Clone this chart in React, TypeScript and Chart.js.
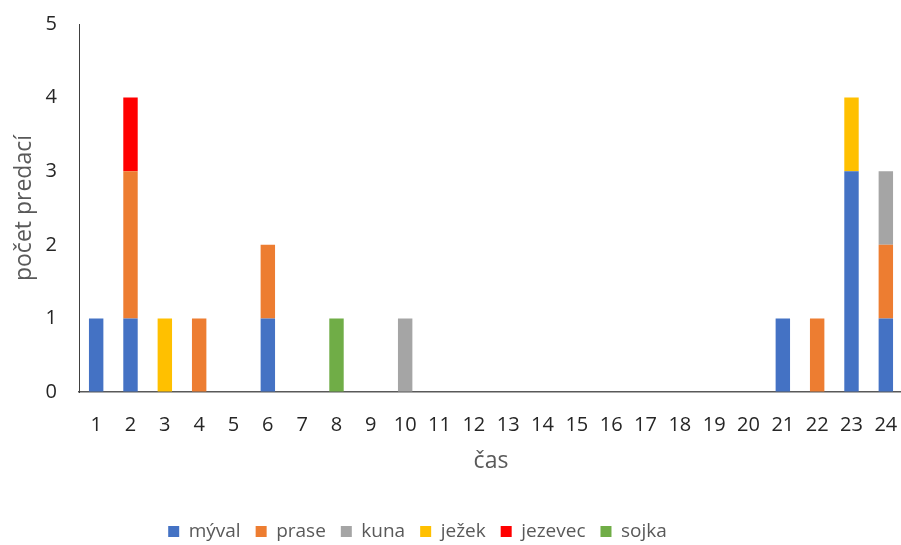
import React, { useEffect, useRef } from "react";
import { Chart, registerables } from "chart.js";

Chart.register(...registerables);

const categories = ["1","2","3","4","5","6","7","8","9","10","11","12","13","14","15","16","17","18","19","20","21","22","23","24"];
//                 1  2  3  4  5  6  7  8  9 10 11 12 13 14 15 16 17 18 19 20 21 22 23 24
const myval   = [1, 1, 0, 0, 0, 1, 0, 0, 0, 0, 0, 0, 0, 0, 0, 0, 0, 0, 0, 0, 1, 0, 3, 1];
const prase   = [0, 2, 0, 1, 0, 1, 0, 0, 0, 0, 0, 0, 0, 0, 0, 0, 0, 0, 0, 0, 0, 1, 0, 1];
const kuna    = [0, 0, 0, 0, 0, 0, 0, 0, 0, 1, 0, 0, 0, 0, 0, 0, 0, 0, 0, 0, 0, 0, 0, 1];
const jezek   = [0, 0, 1, 0, 0, 0, 0, 0, 0, 0, 0, 0, 0, 0, 0, 0, 0, 0, 0, 0, 0, 0, 1, 0];
const jezevec = [0, 1, 0, 0, 0, 0, 0, 0, 0, 0, 0, 0, 0, 0, 0, 0, 0, 0, 0, 0, 0, 0, 0, 0];
const sojka   = [0, 0, 0, 0, 0, 0, 0, 1, 0, 0, 0, 0, 0, 0, 0, 0, 0, 0, 0, 0, 0, 0, 0, 0];

const seriesNames = ["mýval", "prase", "kuna", "ježek", "jezevec", "sojka"];
const seriesColors = ["#4472C4", "#ED7D31", "#A5A5A5", "#FFC000", "#FF0000", "#70AD47"];
const seriesValues = [myval, prase, kuna, jezek, jezevec, sojka];

const yTitle = "počet predací";
const xTitle = "čas";

const FONT = "'Open Sans', 'Noto Sans', sans-serif";

const legendShift = {
  id: "legendShift",
  afterLayout(chart: any) {
    const l = chart.legend;
    if (l) {
      l.left -= 34;
      l.right -= 34;
    }
  },
};

export default function App() {
  const ref = useRef<HTMLCanvasElement | null>(null);

  useEffect(() => {
    if (!ref.current) return;
    const chart = new Chart(ref.current, {
      type: "bar",
      data: {
        labels: categories,
        datasets: seriesNames.map((name, i) => ({
          label: name,
          data: seriesValues[i],
          backgroundColor: seriesColors[i],
          borderWidth: 0,
          categoryPercentage: 1,
          barPercentage: 0.42,
        })),
      },
      plugins: [legendShift],
      options: {
        responsive: false,
        animation: false,
        layout: { padding: { top: 24, left: 0, right: 0, bottom: 0 } },
        plugins: {
          legend: {
            position: "bottom",
            labels: {
              boxWidth: 11,
              boxHeight: 11,
              padding: 15,
              color: "#595959",
              font: { family: FONT, size: 19 },
            },
          },
          tooltip: { enabled: false },
        },
        scales: {
          x: {
            stacked: true,
            grid: { display: true, drawOnChartArea: false, drawTicks: true, tickLength: 21, color: "rgba(0,0,0,0)" },
            border: { display: true, color: "#595959", width: 1.5 },
            ticks: { color: "#262626", padding: 0, font: { family: FONT, size: 20 }, maxRotation: 0, autoSkip: false },
            title: {
              display: true,
              text: xTitle,
              color: "#595959",
              font: { family: FONT, size: 23 },
              padding: { top: 0, bottom: 32 },
            },
            afterFit: (s: any) => { s.height = 115; },
          },
          y: {
            stacked: true,
            min: 0,
            max: 5,
            grid: { display: true, drawOnChartArea: false, drawTicks: true, tickLength: 22, color: "rgba(0,0,0,0)" },
            border: { display: true, color: "#404040", width: 1 },
            ticks: { stepSize: 1, color: "#262626", padding: 0, font: { family: FONT, size: 20 } },
            title: {
              display: true,
              text: yTitle,
              color: "#595959",
              font: { family: FONT, size: 23 },
              padding: { top: 11, bottom: 0 },
            },
            afterFit: (s: any) => { s.width = 79; },
          },
        },
      },
    });
    return () => chart.destroy();
  }, []);

  return (
    <div style={{ position: "fixed", left: 0, top: 0, width: 901, height: 545, overflow: "hidden", background: "#fff" }}>
      <canvas ref={ref} width={903} height={551} style={{ display: "block", width: 903, height: 551 }} />
    </div>
  );
}
